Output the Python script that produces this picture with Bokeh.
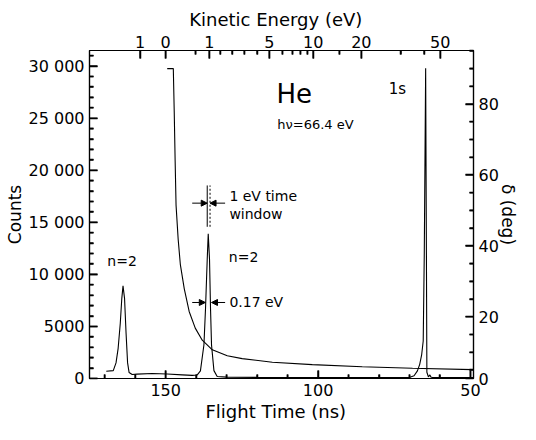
from bokeh.plotting import figure
from bokeh.models import (Range1d, LinearAxis, FixedTicker, Label, Arrow, NormalHead)
from bokeh.embed import file_html
from bokeh.resources import INLINE

# ---------------- data ----------------
# photoelectron spectrum: flight time (ns) -> counts
flight_time_ns = [169.5, 167.2, 166.3, 165.6, 164.9, 164.4, 164.0, 163.5, 163.0, 162.5,
                  162.0, 161.0, 159.4, 154.4, 149.5, 144.6, 141.3, 139.7, 138.6, 137.45,
                  136.93, 136.37, 136.04, 135.62, 135.29, 134.96, 134.17, 133.1, 130.0,
                  120.0, 100.0, 80.0, 72.0, 70.1, 68.5, 67.4, 66.65, 66.0, 65.5, 65.15,
                  64.7, 64.45, 64.3, 63.8, 63.3, 63.0, 62.5, 60.0, 55.0, 49.0]
counts = [700, 760, 1500, 2900, 5300, 7700, 8900, 7700, 4350, 1500,
          570, 380, 420, 480, 430, 350, 300, 330, 730, 3245,
          6717, 11450, 13900, 11450, 6717, 3216, 757, 190, 130,
          110, 100, 100, 100, 100, 260, 730, 1360, 2300, 3600, 12000,
          29800, 12000, 600, 150, 350, 150, 100, 100, 100, 100]

# delta curve: flight time (ns) -> delta (deg)
delta_time_ns = [149.5, 147.5, 147.2, 146.9, 146.6, 145.9, 145.2, 143.9, 142.3, 140.3,
                 138.0, 134.7, 129.8, 124.9, 115.0, 101.9, 85.5, 69.0, 49.3]
delta_deg = [90.0, 90.0, 77.9, 64.0, 51.5, 41.8, 34.8, 27.9, 21.5, 16.8,
             13.4, 10.7, 9.0, 8.2, 7.2, 6.5, 5.9, 5.5, 5.1]

# axis ticks
count_ticks = [0, 5000, 10000, 15000, 20000, 25000, 30000]
count_tick_labels = ["0", "5000", "10 000", "15 000", "20 000", "25 000", "30 000"]
count_minor_ticks = [c for c in range(1000, 32000, 1000) if c % 5000 != 0]
time_ticks = [150, 100, 50]
time_tick_labels = ["150", "100", "50"]
time_minor_ticks = [170, 160, 140, 130, 120, 110, 90, 80, 70, 60]
delta_ticks = [20, 40, 60, 80]
delta_minor_ticks = [d for d in range(5, 96, 5) if d % 20 != 0]
# kinetic energy axis: positions in flight time (ns) and labels (eV)
ke_tick_times = [158.4, 150.0, 135.7, 116.0, 101.6, 85.8, 59.9]
ke_tick_labels = ["1", "0", "1", "5", "10", "20", "50"]
ke_minor_times = [140.2, 132.1, 128.2, 124.2, 120.0, 111.7, 108.4, 105.8, 103.5,
                  93.0, 72.8, 65.2]

# annotation values
window_times = [136.37, 135.45]
window_counts = [14570, 18540]
window_arrow_counts = 16840
fwhm_counts = 7300
fwhm_times = [137.0, 134.96]
arrow_outer_times = [141.3, 130.5]

FONT = "DejaVu Sans"
X0, X1, Y0, Y1 = 175, 49, 0, 31500
D0, D1 = 2.6, 95.1
FRAME_W, FRAME_H = 384, 333

p = figure(width=528, height=424, x_range=Range1d(X0, X1), y_range=Range1d(Y0, Y1),
           output_backend="svg", toolbar_location=None,
           min_border_left=89, min_border_right=55, min_border_top=50, min_border_bottom=41)
p.extra_y_ranges = {"delta": Range1d(D0, D1)}
p.grid.visible = False
p.outline_line_color = "black"
p.outline_line_width = 1.2
p.background_fill_color = "white"
p.border_fill_color = "white"

def style_axis(ax, label, label_size, tick_size="16px"):
    ax.axis_label = label
    ax.axis_label_text_font = FONT
    ax.axis_label_text_font_style = "normal"
    ax.axis_label_text_font_size = label_size
    ax.axis_label_text_color = "black"
    ax.major_label_text_font = FONT
    ax.major_label_text_font_size = tick_size
    ax.major_label_text_color = "black"
    ax.axis_line_color = "black"
    ax.axis_line_width = 1.2
    ax.major_tick_line_color = "black"
    ax.minor_tick_line_color = "black"
    ax.major_tick_line_width = 1.5
    ax.minor_tick_line_width = 1.5
    ax.major_tick_in = 8
    ax.minor_tick_in = 4
    ax.major_tick_out = 0
    ax.minor_tick_out = 0

# left: counts
yl = p.yaxis[0]
yl.ticker = FixedTicker(ticks=count_ticks, minor_ticks=count_minor_ticks)
yl.major_label_overrides = dict(zip(count_ticks, count_tick_labels))
style_axis(yl, "Counts", "17px")
yl.major_label_standoff = 5
yl.axis_label_standoff = 1

# bottom: flight time
xb = p.xaxis[0]
xb.ticker = FixedTicker(ticks=time_ticks, minor_ticks=time_minor_ticks)
xb.major_label_overrides = dict(zip(time_ticks, time_tick_labels))
style_axis(xb, "Flight  Time  (ns)", "18px", "16px")
xb.major_label_standoff = 5
xb.axis_label_standoff = 2

# right: delta (the zero of delta lies just under the frame; its label is put at the corner)
yr = LinearAxis(y_range_name="delta",
                ticker=FixedTicker(ticks=[D0] + delta_ticks, minor_ticks=delta_minor_ticks))
yr.major_label_overrides = {D0: "0"}
style_axis(yr, "δ (deg)", "17px")
yr.major_label_standoff = 5
yr.axis_label_standoff = -4
p.add_layout(yr, "right")

# top: kinetic energy
xt = LinearAxis(ticker=FixedTicker(ticks=ke_tick_times, minor_ticks=ke_minor_times))
xt.major_label_overrides = dict(zip(ke_tick_times, ke_tick_labels))
style_axis(xt, "Kinetic  Energy  (eV)", "18px")
xt.major_label_standoff = 3
xt.axis_label_standoff = 3
p.add_layout(xt, "above")

# inward tick marks: one broken line per frame edge (NaN separates the marks)
ns_per_px = (X0 - X1) / FRAME_W
cnt_per_px = (Y1 - Y0) / FRAME_H
MAJ, MIN = 8, 4
TW = 1.6
NAN = float("nan")

def tick_path_h(x_edge, direction, ys_major, ys_minor):
    xs, ys = [], []
    for vals, n in ((ys_major, MAJ), (ys_minor, MIN)):
        for v in vals:
            xs += [x_edge, x_edge + direction * n * ns_per_px, NAN]
            ys += [v, v, NAN]
    return xs, ys

def tick_path_v(y_edge, direction, xs_major, xs_minor):
    xs, ys = [], []
    for vals, n in ((xs_major, MAJ), (xs_minor, MIN)):
        for v in vals:
            xs += [v, v, NAN]
            ys += [y_edge, y_edge + direction * n * cnt_per_px, NAN]
    return xs, ys

tx, ty = tick_path_h(X0, -1, count_ticks, count_minor_ticks)
p.line(tx, ty, line_color="black", line_width=TW)
tx, ty = tick_path_h(X1, +1, delta_ticks, delta_minor_ticks)
p.line(tx, ty, line_color="black", line_width=TW, y_range_name="delta")
tx, ty = tick_path_v(Y0, +1, time_ticks, time_minor_ticks)
p.line(tx, ty, line_color="black", line_width=TW)
tx, ty = tick_path_v(Y1, -1, ke_tick_times, ke_minor_times)
p.line(tx, ty, line_color="black", line_width=TW)

# curves
p.line(flight_time_ns, counts, line_color="black", line_width=1.1)
p.line(delta_time_ns, delta_deg, y_range_name="delta", line_color="black", line_width=1.1)

# 1 eV time window lines
p.segment(x0=[window_times[0]], y0=[window_counts[0]], x1=[window_times[0]], y1=[window_counts[1]],
          line_color="black", line_width=1)
p.segment(x0=[window_times[1]], y0=[window_counts[0]], x1=[window_times[1]], y1=[window_counts[1]],
          line_color="black", line_width=1, line_dash="2 2")

def arrow(x0, x1, y):
    p.add_layout(Arrow(end=NormalHead(size=6, fill_color="black", line_color="black", line_width=1),
                       x_start=x0, y_start=y, x_end=x1, y_end=y,
                       line_color="black", line_width=1))

arrow(arrow_outer_times[0], window_times[0], window_arrow_counts)
arrow(arrow_outer_times[1], window_times[1], window_arrow_counts)
arrow(arrow_outer_times[0], fwhm_times[0], fwhm_counts)
arrow(arrow_outer_times[1], fwhm_times[1], fwhm_counts)

def label(x, y, text, size, align="left", **kw):
    p.add_layout(Label(x=x, y=y, text=text, text_font=FONT, text_font_size=size,
                       text_align=align, text_baseline="middle", text_color="black", **kw))

label(107.8, 27300, "He", "26px", "center")
label(113.4, 24400, "hν=66.4 eV", "13px")
label(74.0, 27800, "1s", "15px", "center")
label(164.3, 11300, "n=2", "14px", "center")
label(129.3, 11700, "n=2", "14px")
label(129.1, 17500, "1 eV  time", "14px")
label(129.1, 15800, "window", "14px")
label(129.1, fwhm_counts, "0.17 eV", "14px")

open("out.html", "w").write(file_html(p, INLINE))
